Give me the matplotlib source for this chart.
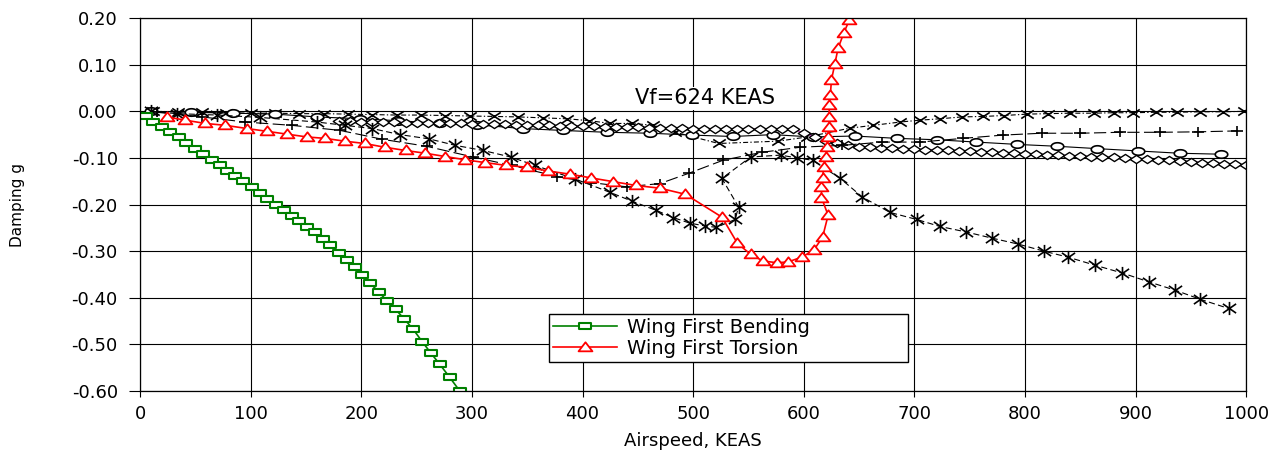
"""Flutter V-g plot: damping vs airspeed for the wing modes."""

import numpy as np
import matplotlib
matplotlib.use("Agg")
import matplotlib.pyplot as plt
from matplotlib.path import Path

# ── data (airspeed KEAS, damping g) ─────────────────────────────

bend_x = [5, 12, 20, 27, 35, 42, 50, 57, 65, 72, 79, 86, 93, 101, 108, 115, 123, 130,
          137, 144, 151, 158, 165, 172, 180, 187, 194, 201, 208, 216, 223, 231, 239,
          247, 255, 263, 271, 280, 289]
bend_g = [-0.009, -0.022, -0.033, -0.045, -0.056, -0.068, -0.080, -0.092, -0.104, -0.116,
          -0.127, -0.138, -0.150, -0.162, -0.175, -0.188, -0.200, -0.212, -0.224, -0.236,
          -0.248, -0.260, -0.273, -0.287, -0.303, -0.318, -0.335, -0.352, -0.369, -0.388,
          -0.406, -0.425, -0.446, -0.468, -0.494, -0.519, -0.543, -0.571, -0.600]

tors_x = [24, 41, 59, 77, 97, 115, 133, 151, 167, 185, 203, 221, 240, 258, 276, 294, 312,
          331, 350, 369, 389, 408, 428, 448, 470, 493, 526, 540, 552, 563, 576, 586, 598,
          609, 617, 622, 616, 616, 617, 618, 620, 621, 622, 623, 623, 623, 624, 625, 628,
          631, 636, 641]
tors_g = [-0.012, -0.019, -0.026, -0.030, -0.037, -0.043, -0.049, -0.055, -0.058, -0.064,
          -0.069, -0.077, -0.084, -0.090, -0.097, -0.104, -0.110, -0.116, -0.120, -0.128,
          -0.135, -0.143, -0.151, -0.159, -0.165, -0.178, -0.227, -0.283, -0.307, -0.321,
          -0.325, -0.323, -0.313, -0.298, -0.270, -0.223, -0.185, -0.162, -0.142, -0.120,
          -0.098, -0.077, -0.055, -0.034, -0.012, 0.013, 0.034, 0.067, 0.101, 0.135,
          0.167, 0.195]

cross_x = [12, 34, 56, 78, 100, 122, 144, 166, 188, 210, 232, 254, 276, 298, 320, 342, 364,
           386, 406, 425, 445, 464, 484, 523, 577, 603, 642, 663, 687, 705, 723, 743, 762,
           781, 802, 821, 841, 862, 880, 898, 918, 937, 958, 979, 998]
cross_g = [0.000, -0.001, -0.002, -0.003, -0.004, -0.004, -0.005, -0.005, -0.006, -0.007,
           -0.008, -0.008, -0.009, -0.010, -0.011, -0.012, -0.014, -0.016, -0.020, -0.026,
           -0.026, -0.030, -0.045, -0.069, -0.064, -0.055, -0.036, -0.030, -0.023, -0.019,
           -0.016, -0.012, -0.011, -0.009, -0.006, -0.005, -0.004, -0.004, -0.003, -0.003,
           -0.002, -0.002, -0.001, -0.001, 0.000]

circ_x = [10, 46, 84, 122, 160, 199, 233, 271, 305, 346, 382, 422, 461, 499, 536, 572, 608,
          646, 684, 720, 756, 793, 829, 865, 902, 940, 977]
circ_g = [0.000, -0.002, -0.004, -0.006, -0.012, -0.016, -0.020, -0.026, -0.029, -0.037,
          -0.041, -0.045, -0.047, -0.051, -0.054, -0.050, -0.055, -0.053, -0.058, -0.061,
          -0.066, -0.071, -0.075, -0.080, -0.085, -0.090, -0.092]

diam_x = [180, 190, 200, 210, 220, 230, 240, 250, 260, 270, 280, 290, 300, 310, 320, 330,
          340, 350, 360, 370, 380, 390, 400, 410, 420, 430, 440, 450, 460, 470, 480, 490,
          500, 510, 520, 530, 540, 550, 560, 570, 580, 590, 600, 610, 620, 630, 640, 650,
          660, 670, 680, 690, 700, 710, 720, 730, 740, 750, 760, 770, 780, 790, 800, 810,
          820, 830, 840, 850, 860, 870, 880, 890, 900, 910, 920, 930, 940, 950, 960, 970,
          980, 990, 1000]
diam_g = [-0.020, -0.021, -0.022, -0.022, -0.023, -0.023, -0.024, -0.024, -0.025, -0.025,
          -0.026, -0.026, -0.027, -0.027, -0.028, -0.028, -0.029, -0.029, -0.030, -0.030,
          -0.031, -0.031, -0.032, -0.032, -0.033, -0.033, -0.034, -0.034, -0.035, -0.035,
          -0.036, -0.036, -0.037, -0.037, -0.038, -0.038, -0.038, -0.038, -0.038, -0.038,
          -0.038, -0.039, -0.046, -0.055, -0.063, -0.069, -0.073, -0.076, -0.077, -0.078,
          -0.079, -0.080, -0.081, -0.082, -0.083, -0.084, -0.085, -0.086, -0.087, -0.088,
          -0.089, -0.090, -0.091, -0.092, -0.093, -0.094, -0.095, -0.096, -0.097, -0.098,
          -0.099, -0.100, -0.102, -0.103, -0.104, -0.105, -0.107, -0.108, -0.110, -0.111,
          -0.112, -0.114, -0.115]

plus_x = [15, 56, 95, 137, 181, 219, 259, 301, 336, 377, 408, 440, 470, 496, 527, 562, 597,
          635, 671, 705, 744, 780, 815, 850, 886, 922, 956, 992]
plus_g = [-0.002, -0.012, -0.023, -0.030, -0.041, -0.060, -0.075, -0.098, -0.116, -0.140,
          -0.153, -0.162, -0.155, -0.133, -0.105, -0.088, -0.077, -0.073, -0.066, -0.066,
          -0.058, -0.051, -0.047, -0.047, -0.045, -0.045, -0.044, -0.042]

star_x = [10, 33, 70, 108, 160, 185, 210, 235, 261, 285, 310, 335, 357, 393, 425, 445, 466,
          482, 497, 511, 521, 538, 541, 526, 552, 579, 594, 608, 633, 653, 678, 702, 723,
          747, 770, 794, 817, 839, 863, 888, 912, 936, 958, 984]
star_g = [0.000, -0.005, -0.008, -0.013, -0.023, -0.030, -0.037, -0.050, -0.059, -0.073,
          -0.084, -0.098, -0.116, -0.145, -0.174, -0.193, -0.212, -0.228, -0.240, -0.246,
          -0.249, -0.232, -0.205, -0.144, -0.098, -0.094, -0.100, -0.105, -0.144, -0.184,
          -0.217, -0.232, -0.247, -0.259, -0.272, -0.285, -0.300, -0.313, -0.330, -0.347,
          -0.366, -0.384, -0.403, -0.423]

x_ticks = [0, 100, 200, 300, 400, 500, 600, 700, 800, 900, 1000]
y_ticks = [0.20, 0.10, 0.00, -0.10, -0.20, -0.30, -0.40, -0.50, -0.60]
y_labels = ["0.20", "0.10", "0.00", "-0.10", "-0.20", "-0.30", "-0.40", "-0.50", "-0.60"]

# ── marker shapes (the original export is stretched sideways) ─────


def _poly(verts):
    return Path(verts + [verts[0]], closed=True)


def _strokes(*segs):
    verts, codes = [], []
    for a, b in segs:
        verts += [a, b]
        codes += [Path.MOVETO, Path.LINETO]
    return Path(verts, codes)


_t = np.linspace(0, 2 * np.pi, 28, endpoint=False)
OVAL = _poly([(np.cos(a), 0.6 * np.sin(a)) for a in _t])
RECT = _poly([(-1, -0.62), (1, -0.62), (1, 0.62), (-1, 0.62)])
TRI = _poly([(-1, -0.55), (1, -0.55), (0, 0.75)])
DIAMOND = _poly([(-1, 0), (0, 0.65), (1, 0), (0, -0.65)])
XMARK = _strokes(((-1, -0.65), (1, 0.65)), ((-1, 0.65), (1, -0.65)))
PLUS = _strokes(((-1, 0), (1, 0)), ((0, -0.9), (0, 0.9)))
STAR = _strokes(((-1, -0.7), (1, 0.7)), ((-1, 0.7), (1, -0.7)), ((0, -1), (0, 1)))

# ── plot ─────────────────────────────────────────────────────────

fig, ax = plt.subplots(figsize=(12.73, 4.53), dpi=100)
fig.subplots_adjust(left=0.110, right=0.979, top=0.960, bottom=0.137)

blk = dict(color="black", lw=0.8, mec="black", mew=1.2)
ax.plot(cross_x, cross_g, ls=(0, (4.5, 2, 1.2, 2)), marker=XMARK, ms=9, mfc="none", **blk)
ax.plot(circ_x, circ_g, ls="-", marker=OVAL, ms=9, mfc="white", **blk)
ax.plot(diam_x, diam_g, color="#cc33cc", lw=0.8, marker=DIAMOND, ms=9,
        mfc="white", mec="black", mew=1.0)
ax.plot(plus_x, plus_g, ls=(0, (11, 4)), marker=PLUS, ms=8.5, mfc="none", **blk)
ax.plot(star_x, star_g, ls=(0, (5.5, 3)), marker=STAR, ms=9.5, mfc="none", **blk)

ax.plot(bend_x, bend_g, color="#008000", lw=1.2, marker=RECT, ms=8, mfc="white",
        mec="#008000", mew=1.5, label="Wing First Bending")
ax.plot(tors_x, tors_g, color="red", lw=1.2, marker=TRI, ms=10, mfc="white",
        mec="red", mew=1.3, label="Wing First Torsion")

ax.text(511, 0.028, "Vf=624 KEAS", ha="center", va="center", fontsize=15,
        bbox=dict(facecolor="white", edgecolor="none", pad=1))

ax.set_xlim(0, 1000)
ax.set_ylim(-0.6, 0.2)
ax.set_xticks(x_ticks)
ax.set_yticks(y_ticks, y_labels)
ax.set_axisbelow(True)
ax.grid(True, color="black", lw=0.8)
for sp in ax.spines.values():
    sp.set_color("black")
    sp.set_linewidth(0.9)
ax.tick_params(axis="y", direction="out", length=8, width=0.8, pad=8, labelsize=13)
ax.tick_params(axis="x", direction="out", length=4, width=0.8, pad=6, labelsize=13)

ax.set_xlabel("Airspeed, KEAS", fontsize=13)
ax.xaxis.set_label_coords(0.5, -0.11)
ax.set_ylabel("Damping g", fontsize=11)
ax.yaxis.set_label_coords(-0.104, 0.5)

leg = ax.legend(loc="upper left", bbox_to_anchor=(0.370, 0.080, 0.324, 0.126),
                mode="expand", fontsize=14, labelspacing=0.1, borderpad=0.2,
                handlelength=3.3, handletextpad=0.5, borderaxespad=0,
                fancybox=False, framealpha=1)
leg.get_frame().set_edgecolor("black")
leg.get_frame().set_linewidth(1.0)

fig.savefig("out.png", dpi=100)
